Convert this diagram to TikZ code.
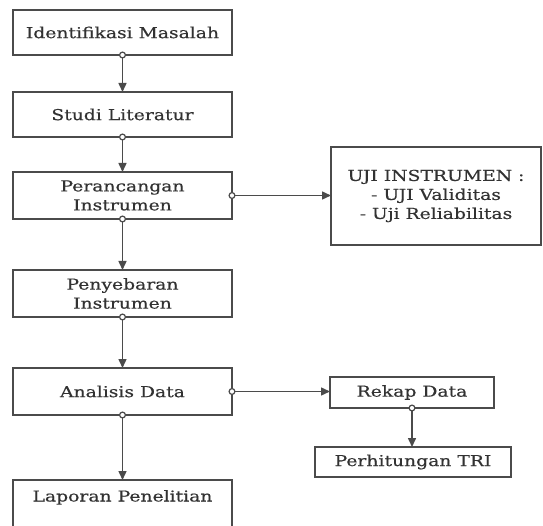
\documentclass[tikz,border=0pt]{standalone}
\usepackage{fontspec}
\setmainfont{DejaVu Serif}[FakeStretch=1.25, FakeBold=0.4]
\usetikzlibrary{
  arrows.meta,
  positioning,
}
\definecolor{linegray}{RGB}{75,75,75}
\definecolor{textgray}{RGB}{50,50,50}
\tikzset{
  stepbox/.style = {draw=linegray, line width=1.8pt, fill=white,
      minimum width=#1, inner sep=0pt, outer sep=0pt,
      text=textgray, align=center, font=\fontsize{15}{19}\selectfont},
  stepbox/.default = 219pt,
  flow/.style = {draw=linegray, line width=1.5pt,
      {Circle[open, length=7pt, width=7pt, line width=1.2pt, fill=white]}-{Triangle[length=9pt, width=8pt]},
      shorten <=-3.5pt},
}

\begin{document}
\begin{tikzpicture}[x=1pt, y=-1pt]
  \useasboundingbox (0,0) rectangle (543,526);

  % main column
  \node[stepbox, minimum height=45pt] (idm) at (122.5,32.5) {Identifikasi Masalah};
  \node[stepbox, minimum height=45pt] (studi) at (122.5,114.5) {Studi Literatur};
  \node[stepbox, minimum height=47pt] (peran) at (122.5,195.5) {Perancangan\\Instrumen};
  \node[stepbox, minimum height=47pt] (sebar) at (122.5,293.5) {Penyebaran\\Instrumen};
  \node[stepbox, minimum height=47pt] (analisis) at (122.5,391.5) {Analisis Data};
  \node[stepbox, minimum height=48pt, text height=11pt, text depth=16pt]
    (lapor) at (122.5,504) {Laporan Penelitian};

  % side boxes
  \node[stepbox=210pt, minimum height=98pt] (uji) at (436,196)
    {UJI INSTRUMEN :\\- UJI Validitas\\- Uji Reliabilitas};
  \node[stepbox=164pt, minimum height=31pt] (rekap) at (412,392.5) {Rekap Data};
  \node[stepbox=196pt, minimum height=30pt] (tri) at (413,462) {Perhitungan TRI};

  \draw[flow] (idm) -- (studi);
  \draw[flow] (studi) -- (peran);
  \draw[flow] (peran) -- (sebar);
  \draw[flow] (sebar) -- (analisis);
  \draw[flow] (analisis) -- (lapor);
  \draw[flow] (peran.east) -- (peran.east -| uji.west);
  \draw[flow] (analisis.east) -- (analisis.east -| rekap.west);
  \draw[flow] (rekap.south) -- (rekap.south |- tri.north);
\end{tikzpicture}
\end{document}
